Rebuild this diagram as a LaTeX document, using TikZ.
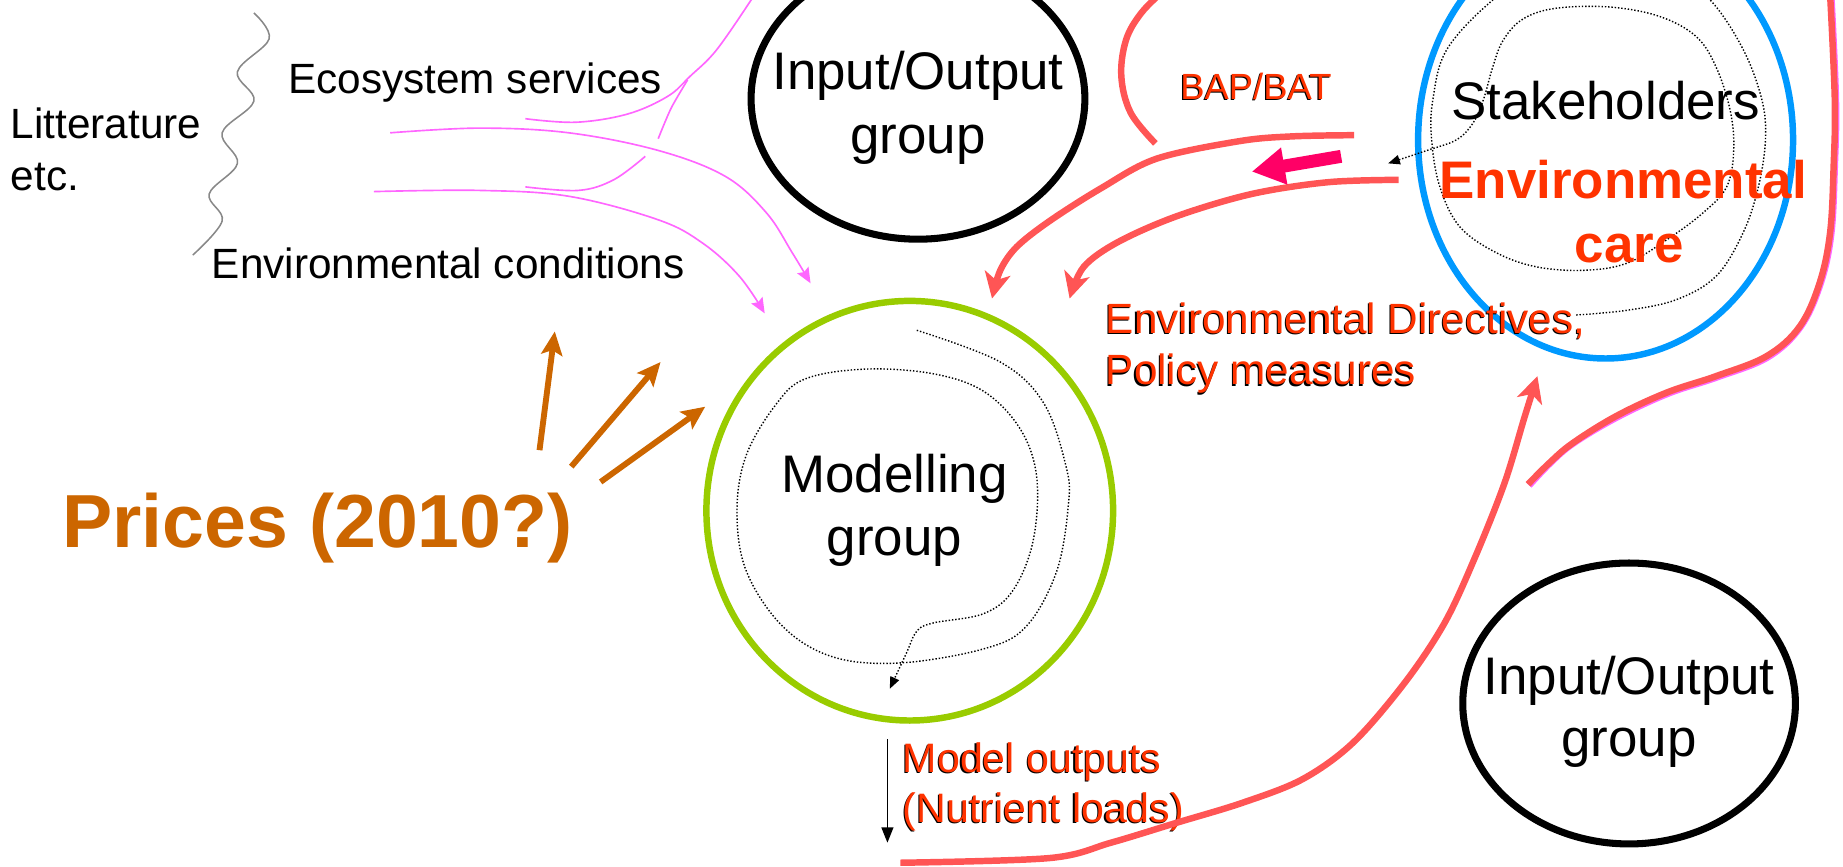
\documentclass[tikz,border=0pt]{standalone}
\usepackage{fontspec}
\setmainfont{Liberation Sans}
\usepackage{graphicx}
\usetikzlibrary{arrows.meta,shapes.geometric}
\definecolor{grn}{HTML}{99CC00}
\definecolor{blu}{HTML}{0099FF}
\definecolor{redln}{HTML}{FF5555}
\definecolor{redtx}{HTML}{FF3300}
\definecolor{mag}{HTML}{FF0066}
\definecolor{pnk}{HTML}{FF66FF}
\definecolor{orng}{HTML}{CC6600}
\definecolor{gry}{HTML}{888888}
\newcommand\shtx[1]{\makebox[0pt][l]{\hspace*{-1pt}\raisebox{-0.9pt}{\textcolor{black}{#1}}}\textcolor{redtx}{#1}}
\begin{document}
\begin{tikzpicture}[x=1pt,y=-1pt,
  grp/.style={ellipse, draw, line width=6pt, inner sep=0pt},
  lbl/.style={inner sep=0pt, font=\fontsize{36}{44}\selectfont},
  lblbig/.style={inner sep=0pt, font=\fontsize{45}{54}\selectfont},
  redline/.style={draw=redln, line width=5.5pt},
  redtip/.style={-{Stealth[length=22pt,width=22pt,inset=6pt]}},
  pinkline/.style={draw=pnk, line width=1.4pt},
  pinktip/.style={-{Stealth[length=13pt,width=11pt,inset=2pt]}},
  orngarrow/.style={draw=orng, line width=5pt, -{Stealth[length=20pt,width=18pt,inset=4pt]}},
  dotline/.style={draw=black, line width=1.2pt, dash pattern=on 1.2pt off 1.6pt, -{Triangle[length=10pt,width=8pt]}}
]
\useasboundingbox (0,0) rectangle (1568,737);
\clip (0,0) rectangle (1568,737);

% group circles
\node[grp, minimum width=284pt, minimum height=239pt] (io1) at (781,84) {};
\node[grp, draw=grn, line width=5.5pt, minimum width=346pt, minimum height=357pt] (mg) at (774,434.5) {};
\node[grp, draw=blu, line width=5.5pt, minimum width=319pt, minimum height=372pt] (st) at (1366,119) {};
\node[grp, minimum width=283pt, minimum height=239pt] (io2) at (1386,598.5) {};

% dotted spirals
\draw[dotline] plot[smooth, tension=0.6] coordinates {(780,281) (851,308) (888,343) (907,397) (909,429) (899,486) (873,533) (837,552) (766,564) (709,559) (666,533) (635,486) (627,435) (635,387) (661,343) (686,322) (737,314) (794,318) (837,333) (868,365) (882,406) (879,460) (862,502) (837,522) (794,530) (780,537) (771,556) (757,586)};
\draw[dotline] plot[smooth, tension=0.6] coordinates {(1341,268) (1384,264) (1426,255) (1460,235) (1483,198) (1496,159) (1502,119) (1499,85) (1483,42) (1455,0) (1420,-25) (1365,-35) (1310,-25) (1270,0) (1231,42) (1219,85) (1218,119) (1225,159) (1242,193) (1273,215) (1307,227) (1347,230) (1384,224) (1418,204) (1449,181) (1469,159) (1475,128) (1472,94) (1460,57) (1443,31) (1412,14) (1370,6) (1324,7) (1296,16) (1279,34) (1270,57) (1262,85) (1253,105) (1239,119) (1214,128) (1181,139)};

% texts
\node[lbl, anchor=base west] (lit1) at (9,117.7) {Litterature};
\node[lbl, anchor=base west] (lit2) at (9,161.7) {etc.};
\node[lbl, anchor=base west] (eco) at (245,79.4) {Ecosystem services};
\node[lbl, anchor=base west] (envc) at (180,236.8) {Environmental conditions};
\node[lblbig, anchor=base] (io1a) at (781,76) {Input/Output};
\node[lblbig, anchor=base] (io1b) at (781,130.5) {group};
\node[lblbig, anchor=base] (mga) at (761,419) {Modelling};
\node[lblbig, anchor=base] (mgb) at (761,473) {group};
\node[lblbig, anchor=base] (sta) at (1366,101.6) {Stakeholders};
\node[lblbig, anchor=base, text=redtx, font=\bfseries\fontsize{45}{54}\selectfont] (eca) at (1381,169) {Environmental};
\node[lblbig, anchor=base, text=redtx, font=\bfseries\fontsize{45}{54}\selectfont] (ecb) at (1386,223) {care};
\node[lblbig, anchor=base] (io2a) at (1386,591) {Input/Output};
\node[lblbig, anchor=base] (io2b) at (1386,644) {group};
\node[inner sep=0pt, anchor=base west, font=\fontsize{31}{38}\selectfont] (bap) at (1004,85) {\shtx{BAP/BAT}};
\node[lbl, anchor=base west] (dira) at (940.6,283.6) {\shtx{Environmental Directives,}};
\node[lbl, anchor=base west] (dirb) at (940.6,327.5) {\shtx{Policy measures}};
\node[lbl, anchor=base west, font=\fontsize{35}{43}\selectfont] (moa) at (768,657) {\shtx{Model outputs}};
\node[lbl, anchor=base west, font=\fontsize{35}{43}\selectfont] (mob) at (768,700) {\shtx{(Nutrient loads)}};
\node[inner sep=0pt, anchor=base west, text=orng, font=\bfseries\fontsize{64}{70}\selectfont] (prices) at (53,466) {Prices (2010?)};

% gray wavy bracket
\draw[gry, line width=1.3pt] plot[smooth, tension=0.6] coordinates {(216,11) (229,33) (202,61) (216,86) (189,113) (202,139) (178,165) (189,188) (164,217)};

% pink lines
\draw[pinkline] plot[smooth, tension=0.6] coordinates {(447,101) (490,104) (534,97) (568,82) (587,65) (610,42) (641,-3)};
\draw[pinkline] plot[smooth, tension=0.5] coordinates {(560,118) (571,92) (585,68)};
\draw[pinkline] plot[smooth, tension=0.6] coordinates {(447,159) (492,162) (522,153) (549,133)};
\coordinate (p4e) at (689.6,241);
\coordinate (p5e) at (650.6,266.6);
\draw[pinkline, pinktip] plot[smooth, tension=0.6] coordinates {(332,113) (408,109) (484,113) (560,128) (617,150) (652,181) (674,215) (p4e)};
\draw[pinkline, pinktip] plot[smooth, tension=0.6] coordinates {(318,163) (408,162) (484,167) (560,187) (598,207) (629,235) (p5e)};

% orange arrows
\draw[orngarrow] (459,383) -- (472,282);
\draw[orngarrow] (486,397) -- (562,308);
\draw[orngarrow] (511,410) -- (600,346);

% red curves
\draw[redline] plot[smooth, tension=0.6] coordinates {(983,122) (962,96) (954,65) (958,34) (971,11) (990,-8)};
\draw[pnk, line width=5.5pt] plot[smooth, tension=0.6] coordinates {(1558,-5) (1562,85) (1561,142) (1558,199) (1549,241) (1532,278) (1504,304) (1461,321) (1419,335) (1376,355) (1339,377) (1319,394) (1301,413)};
\draw[redline] plot[smooth, tension=0.6] coordinates {(1557,-5) (1561,85) (1560,142) (1557,198) (1548,241) (1531,278) (1503,303) (1460,320) (1418,334) (1375,354) (1338,377) (1318,394) (1300,412)};
\coordinate (r4ae) at (844,254);
\coordinate (r4be) at (910,254);
\draw[redline, redtip] plot[smooth, tension=0.55] coordinates {(1152,115) (1100,116) (1055,120) (984,135) (937,160) (893,188) (865,210) (851,230) (r4ae)};
\draw[redline, redtip] plot[smooth, tension=0.55] coordinates {(1190,153) (1130,155) (1065,165) (1001,184) (951,206) (922,227) (r4be)};
\coordinate (r3e) at (1308,320);
\draw[redline, redtip] plot[smooth, tension=0.55] coordinates {(766,734) (893,730) (945,717) (1001,700) (1057,683) (1108,663) (1151,632) (1195,581) (1229,530) (1255,474) (1280,411) (1297,355) (r3e)};

% magenta block arrow
\coordinate (ms) at (1141,133);
\coordinate (me) at (1065,146);
\draw[mag, line width=11pt, -{Triangle[length=28pt,width=30pt]}] (ms) -- (me);

% model output arrow
\coordinate (mos) at (755,629);
\coordinate (moe) at (755,717);
\draw[black, line width=1.5pt, -{Triangle[length=13pt,width=10pt]}] (mos) -- (moe);
\end{tikzpicture}
\end{document}
